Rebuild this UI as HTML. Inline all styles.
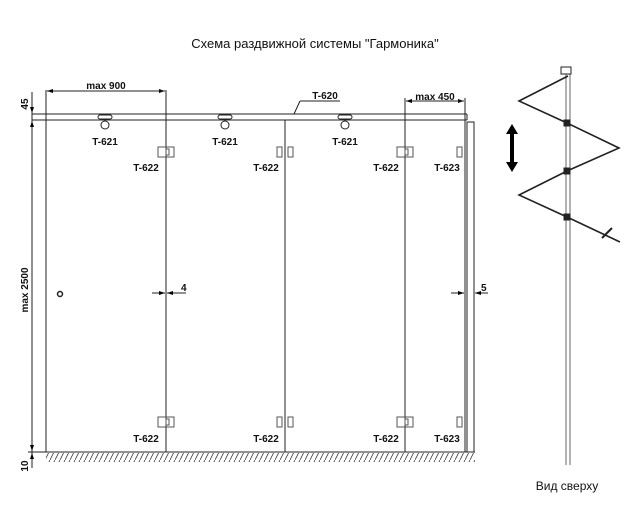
<!DOCTYPE html>
<html><head><meta charset="utf-8"><style>
body{margin:0;background:#fff}
svg{display:block}
text{font-family:"Liberation Sans",sans-serif;fill:#111}
</style></head><body>
<svg width="640" height="515" viewBox="0 0 640 515" xmlns="http://www.w3.org/2000/svg">
<defs>
<pattern id="h" width="5" height="10" patternUnits="userSpaceOnUse"><line x1="0" y1="10" x2="5" y2="0" stroke="#333" stroke-width="0.8"/></pattern>
<marker id="a" markerWidth="6" markerHeight="6" refX="6" refY="3" orient="auto"><path d="M0,1 L6,3 L0,5z" fill="#000"/></marker>
</defs>
<text x="315" y="48" font-size="13" text-anchor="middle">Схема раздвижной системы "Гармоника"</text>
<g stroke="#222" fill="none" stroke-width="1">
<line x1="32" y1="92" x2="32" y2="468"/>
<line x1="32" y1="114" x2="467" y2="114"/>
<line x1="32" y1="120" x2="467" y2="120"/>
<line x1="467" y1="114" x2="467" y2="120"/>
<line x1="28" y1="452" x2="475" y2="452"/>
<line x1="46" y1="90" x2="46" y2="452"/>
<line x1="166" y1="90" x2="166" y2="452"/>
<line x1="285" y1="120" x2="285" y2="452"/>
<line x1="405" y1="98" x2="405" y2="452"/>
<line x1="465" y1="98" x2="465" y2="452"/>
<rect x="467" y="122" width="7" height="330"/>
<line x1="47" y1="91" x2="165" y2="91" marker-end="url(#a)"/>
<line x1="165" y1="91" x2="47" y2="91" marker-end="url(#a)"/>
<line x1="406" y1="101" x2="464" y2="101" marker-end="url(#a)"/>
<line x1="464" y1="101" x2="406" y2="101" marker-end="url(#a)"/>
<line x1="32" y1="100" x2="32" y2="113" marker-end="url(#a)"/>
<line x1="32" y1="130" x2="32" y2="121" marker-end="url(#a)"/>
<line x1="32" y1="440" x2="32" y2="451" marker-end="url(#a)"/>
<line x1="32" y1="465" x2="32" y2="453" marker-end="url(#a)"/>
<line x1="152" y1="293" x2="165" y2="293" marker-end="url(#a)"/>
<line x1="186" y1="293" x2="167" y2="293" marker-end="url(#a)"/>
<line x1="451" y1="293" x2="464" y2="293" marker-end="url(#a)"/>
<line x1="488" y1="293" x2="475" y2="293" marker-end="url(#a)"/>
<line x1="300" y1="101" x2="340" y2="101"/>
<line x1="300" y1="101" x2="294" y2="114"/>
<rect x="98" y="115" width="14" height="4" rx="2"/><circle cx="105" cy="125" r="4"/>
<rect x="218" y="115" width="14" height="4" rx="2"/><circle cx="225" cy="125" r="4"/>
<rect x="338" y="115" width="14" height="4" rx="2"/><circle cx="345" cy="125" r="4"/>
<circle cx="60" cy="294" r="2.5" stroke-width="1.5"/>
<g stroke="#555">
<rect x="158" y="147" width="16" height="10"/><rect x="166" y="149" width="3" height="6"/>
<rect x="158" y="417" width="16" height="10"/><rect x="166" y="419" width="3" height="6"/>
<rect x="277" y="147" width="5" height="10"/><rect x="288" y="147" width="5" height="10"/>
<rect x="277" y="417" width="5" height="10"/><rect x="288" y="417" width="5" height="10"/>
<rect x="397" y="147" width="16" height="10"/><rect x="405" y="149" width="3" height="6"/>
<rect x="397" y="417" width="16" height="10"/><rect x="405" y="419" width="3" height="6"/>
<rect x="457" y="147" width="5" height="10"/><rect x="457" y="417" width="5" height="10"/>
</g>
<line x1="566" y1="74" x2="566" y2="465" stroke="#666"/>
<line x1="570" y1="74" x2="570" y2="465" stroke="#666"/>
<rect x="561" y="67" width="10" height="7"/>
<polyline points="568,76 519,101 567,123 619,148 567,171 519,195 567,217 620,242" stroke="#222" stroke-width="1.6"/>
<rect x="564" y="120" width="6" height="6" fill="#222"/>
<rect x="564" y="168" width="6" height="6" fill="#222"/>
<rect x="564" y="214" width="6" height="6" fill="#222"/>
<line x1="602" y1="238" x2="612" y2="228" stroke-width="2"/>
</g>
<rect x="46" y="453" width="429" height="9" fill="url(#h)"/>
<path d="M512,124 L518,134 L514,134 L514,162 L518,162 L512,172 L506,162 L510,162 L510,134 L506,134z" fill="#000"/>
<g font-size="10" font-weight="bold">
<text x="106" y="89" text-anchor="middle">max 900</text>
<text x="435" y="100" text-anchor="middle">max 450</text>
<text x="325" y="99" text-anchor="middle">T-620</text>
<text x="105" y="145" text-anchor="middle">T-621</text>
<text x="225" y="145" text-anchor="middle">T-621</text>
<text x="345" y="145" text-anchor="middle">T-621</text>
<text x="146" y="171" text-anchor="middle">T-622</text>
<text x="266" y="171" text-anchor="middle">T-622</text>
<text x="386" y="171" text-anchor="middle">T-622</text>
<text x="447" y="171" text-anchor="middle">T-623</text>
<text x="146" y="442" text-anchor="middle">T-622</text>
<text x="266" y="442" text-anchor="middle">T-622</text>
<text x="386" y="442" text-anchor="middle">T-622</text>
<text x="447" y="442" text-anchor="middle">T-623</text>
<text x="181" y="291">4</text>
<text x="481" y="291">5</text>
<text transform="translate(28,104) rotate(-90)" text-anchor="middle">45</text>
<text transform="translate(28,290) rotate(-90)" text-anchor="middle">max 2500</text>
<text transform="translate(28,466) rotate(-90)" text-anchor="middle">10</text>
</g>
<text x="567" y="490" font-size="12" text-anchor="middle">Вид сверху</text>
</svg>
</body></html>
